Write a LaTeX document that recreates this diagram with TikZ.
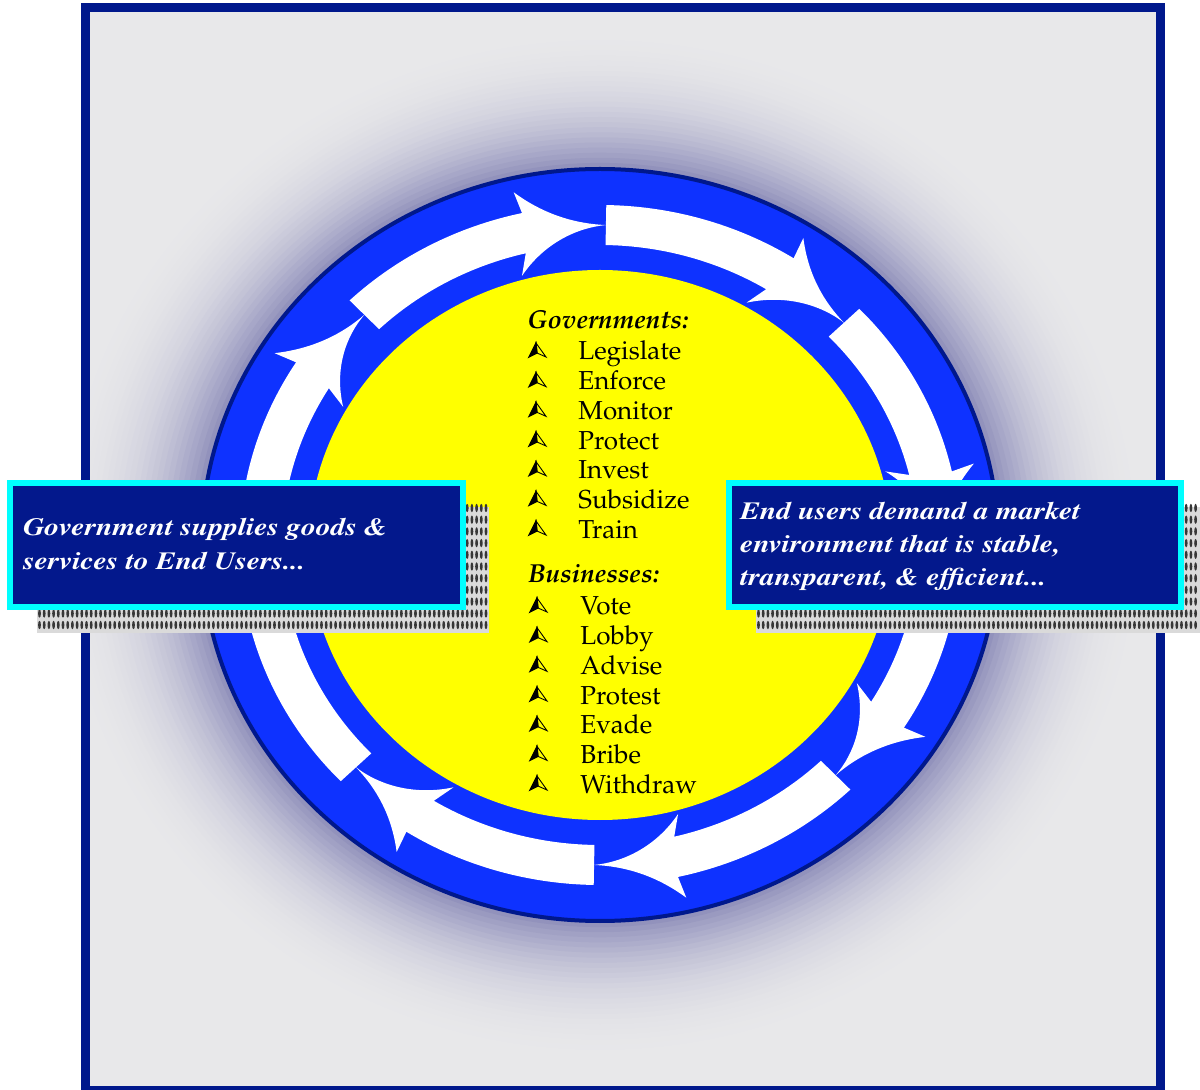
\documentclass[tikz,border=0pt]{standalone}
\usepackage[T1]{fontenc}
\usepackage{graphicx}
\definecolor{navy}{RGB}{0,24,140}
\definecolor{boxnavy}{RGB}{3,24,140}
\definecolor{cyanb}{RGB}{0,255,255}
\definecolor{ringblue}{RGB}{14,50,255}
\definecolor{sunyellow}{RGB}{255,255,0}
\definecolor{framegray}{RGB}{232,232,234}
\definecolor{glowdark}{RGB}{138,138,184}
\definecolor{shadowbg}{RGB}{218,218,218}
\definecolor{dotgray}{RGB}{55,55,55}
\newcommand\palfont{\fontfamily{ppl}\selectfont}
\newcommand\tmsfont{\fontfamily{ptm}\selectfont}
\newcommand\stretchx[1]{\scalebox{1.19}[1]{#1}}
\begin{document}
\begin{tikzpicture}[x=0.5pt,y=-0.5pt,
  infobox/.style={draw=cyanb, fill=boxnavy, line width=3pt, inner sep=0pt},
  boxtext/.style={anchor=base west, inner sep=0pt, text=white, font=\tmsfont\bfseries\itshape\fontsize{12.4}{14}\selectfont},
  listtext/.style={anchor=base west, inner sep=0pt, font=\palfont\fontsize{13}{15}\selectfont},
  listhead/.style={anchor=base west, inner sep=0pt, font=\palfont\bfseries\itshape\fontsize{13}{15}\selectfont},
  shdot/.style={fill=dotgray},
  navb/.pic={
    \fill[black] (7,-14) -- (0,0) -- (8,-4) -- cycle;
    \draw[black, line width=0.45pt, fill=sunyellow] (7,-14) -- (8,-4) -- (17,0) -- cycle;
    \draw[black, line width=0.6pt] (7,-14) -- (0,0) -- (8,-4) -- cycle;
  }
]
\useasboundingbox (0,0) rectangle (1200,1090);

% frame background
\fill[framegray] (90,12) rectangle (1156,1086);
% glow
\begin{scope}
  \clip (90,12) rectangle (1156,1086);
  \begin{scope}[shift={(600,545)}, xscale=1.06, yscale=-1]
    \foreach \i in {0,...,30}{
      \pgfmathsetmacro\rr{530-5.1*\i}
      \pgfmathsetmacro\pp{100*((\i+0.001)/30.001)^2.6}
      \fill[glowdark!\pp!framegray] (0,0) circle[radius=\rr];
    }
  \end{scope}
\end{scope}
% frame border
\draw[navy, line width=4.5pt] (85.5,7.5) rectangle (1160.5,1090.5);

% ring, centre and arrows
\begin{scope}[shift={(600,545)}, xscale=1.06, yscale=-1]
  \fill[ringblue] (0,0) circle[radius=377];
  \draw[navy, line width=2pt] (0,0) circle[radius=376];
  \fill[sunyellow] (0,0) circle[radius=275];
  \foreach \t in {89,44,-1,-46,-91,-136,-181,-226}{
    \fill[white] ({\t+45}:340) arc[start angle={\t+45}, end angle={\t+13.5}, radius=340]
      -- ({\t+14}:362) .. controls ({\t+10}:334) and ({\t+5}:322) .. (\t:320)
      .. controls ({\t+5}:318) and ({\t+11}:306) .. ({\t+16.3}:279)
      -- ({\t+14.5}:300) arc[start angle={\t+14.5}, end angle={\t+45}, radius=300] -- cycle;
  }
\end{scope}

% list
\node[listhead] (ghead) at (527,329) {Governments:};
\foreach \w [count=\i from 0] in {Legislate,Enforce,Monitor,Protect,Invest,Subsidize,Train}{
  \node[listtext] (g\i) at (578,{360+29.67*\i}) {\w};
  \pic at (529,{357+29.67*\i}) {navb};
}
\node[listhead] (bhead) at (528,583) {Businesses:};
\foreach \w [count=\i from 0] in {Vote,Lobby,Advise,Protest,Evade,Bribe,Withdraw}{
  \node[listtext] (b\i) at (580,{615+29.67*\i}) {\w};
  \pic at (530,{612+29.67*\i}) {navb};
}

% shadows
\fill[shadowbg] (37,507) rectangle (489,633);
\foreach \y in {613.5,625}{\foreach \x in {39.5,44.2,...,487}{\fill[shdot] (\x,\y) ellipse[x radius=1.4, y radius=4.2];}}
\foreach \y in {508,519.7,...,602}{\foreach \x in {467.2,471.9,...,487}{\fill[shdot] (\x,\y) ellipse[x radius=1.4, y radius=4.2];}}
\fill[shadowbg] (756,507) rectangle (1210,633);
\foreach \y in {613.5,625}{\foreach \x in {758.5,763.2,...,1200}{\fill[shdot] (\x,\y) ellipse[x radius=1.4, y radius=4.2];}}
\foreach \y in {508,519.7,...,602}{\foreach \x in {1186.2,1190.9,...,1200}{\fill[shdot] (\x,\y) ellipse[x radius=1.4, y radius=4.2];}}

% boxes
\node[infobox, minimum width=226.5pt, minimum height=62pt] (lbox) at (236.5,545) {};
\node[infobox, minimum width=226pt, minimum height=62pt] (rbox) at (955,545) {};
\node[boxtext] (lt1) at (23,536) {\stretchx{Government supplies goods \&}};
\node[boxtext] (lt2) at (23,570) {\stretchx{services to End Users...}};
\node[boxtext] (rt1) at (740,520) {\stretchx{End users demand a market}};
\node[boxtext] (rt2) at (740,553) {\stretchx{environment that is stable,}};
\node[boxtext] (rt3) at (740,586) {\stretchx{transparent, \& efficient...}};
\end{tikzpicture}
\end{document}
